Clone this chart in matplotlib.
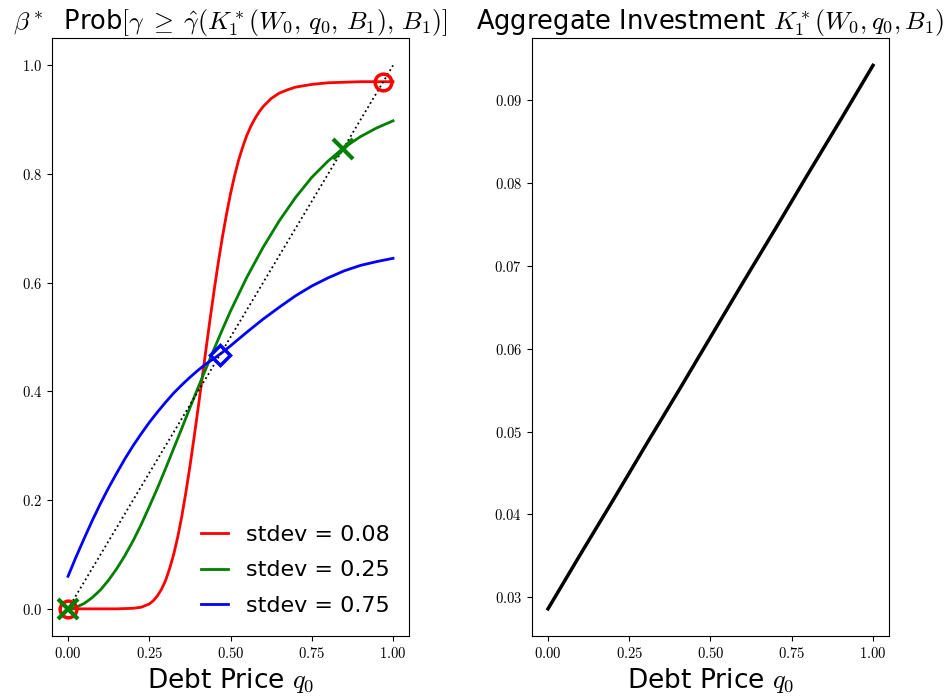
import numpy as np
import matplotlib
matplotlib.use('Agg')
import matplotlib.pyplot as plt
from matplotlib.ticker import FuncFormatter

plt.rcParams['mathtext.fontset'] = 'cm'
plt.rcParams['font.family'] = ['DejaVu Sans']

# Left panel: probability curves
q_red = [0.0, 0.05, 0.10, 0.15, 0.20, 0.225, 0.25, 0.2625, 0.275, 0.2875, 0.30, 0.3125,
         0.325, 0.3375, 0.35, 0.3625, 0.375, 0.3875, 0.40, 0.4125, 0.425, 0.4375,
         0.45, 0.4625, 0.475, 0.4875, 0.50, 0.5125, 0.525, 0.5375, 0.55, 0.5625,
         0.575, 0.5875, 0.60, 0.625, 0.65, 0.675, 0.70, 0.75, 0.80, 0.90, 1.0]
p_red = [0.0, 0.0, 0.0, 0.0, 0.001, 0.003, 0.009, 0.015, 0.024, 0.036, 0.052, 0.074,
         0.100, 0.132, 0.170, 0.214, 0.262, 0.314, 0.368, 0.424, 0.480, 0.535,
         0.588, 0.638, 0.684, 0.726, 0.764, 0.797, 0.826, 0.850, 0.871, 0.888,
         0.902, 0.914, 0.924, 0.939, 0.949, 0.955, 0.960, 0.965, 0.968, 0.970, 0.970]

q_grid = [0.0, 0.025, 0.05, 0.075, 0.10, 0.125, 0.15, 0.175, 0.20, 0.225, 0.25,
          0.275, 0.30, 0.325, 0.35, 0.375, 0.40, 0.425, 0.45, 0.475, 0.50,
          0.55, 0.60, 0.65, 0.70, 0.75, 0.80, 0.85, 0.90, 0.95, 1.0]
p_green = [0.0, 0.003, 0.010, 0.021, 0.035, 0.053, 0.074, 0.098, 0.125, 0.155, 0.188,
           0.222, 0.258, 0.295, 0.332, 0.370, 0.407, 0.443, 0.479, 0.514, 0.548,
           0.610, 0.665, 0.714, 0.757, 0.794, 0.824, 0.849, 0.869, 0.885, 0.898]
p_blue = [0.060, 0.096, 0.130, 0.163, 0.194, 0.223, 0.250, 0.276, 0.300, 0.322, 0.343,
          0.362, 0.380, 0.397, 0.412, 0.426, 0.439, 0.451, 0.461, 0.472, 0.484,
          0.509, 0.533, 0.555, 0.576, 0.594, 0.609, 0.622, 0.632, 0.639, 0.645]

# fixed points (where curve crosses the 45 degree line)
fix_red = [0.0, 0.97]
fix_green = [0.0, 0.847]
fix_blue = [0.468]

# Right panel: aggregate investment
q_inv = [0.0, 0.1, 0.2, 0.3, 0.4, 0.5, 0.6, 0.7, 0.8, 0.9, 1.0]
k_inv = [0.0286, 0.0352, 0.0417, 0.0483, 0.0548, 0.0614, 0.0680, 0.0745, 0.0811, 0.0876, 0.0942]

xticks = [0.0, 0.25, 0.5, 0.75, 1.0]

fig = plt.figure(figsize=(9.45, 7), dpi=100)
ax1 = fig.add_axes([0.0548, 0.0914, 0.3783, 0.854])
ax2 = fig.add_axes([0.5627, 0.0914, 0.3783, 0.854])

ax1.plot(q_red, p_red, color='red', lw=2, label='stdev = 0.08')
ax1.plot(q_grid, p_green, color='green', lw=2, label='stdev = 0.25')
ax1.plot(q_grid, p_blue, color='blue', lw=2, label='stdev = 0.75')
ax1.plot([0, 1], [0, 1], 'k:', lw=1.3)

ax1.plot(fix_red, fix_red, 'o', color='red', mfc='none', ms=12, mew=2.5)
ax1.plot(fix_green, fix_green, 'x', color='green', ms=15, mew=3)
ax1.plot(fix_blue, fix_blue, 'D', color='blue', mfc='none', ms=10, mew=2.5)

ax1.set_title(r'$\beta^*$  Prob$[\gamma \;\geq\; \hat{\gamma}(K_1^*(W_0,\, q_0,\, B_1),\, B_1)]$',
              fontsize=18.5)
ax1.set_xlabel(r'Debt Price $q_0$', fontsize=19)
ax1.legend(loc='lower right', frameon=False, fontsize=16, handlelength=1.2,
           labelspacing=0.7)
ax1.yaxis.set_major_formatter(FuncFormatter(lambda v, p: r'$%.1f$' % v))

ax2.plot(q_inv, k_inv, color='black', lw=2.5)
ax2.set_title(r'Aggregate Investment $K_1^*(W_0, q_0, B_1)$', fontsize=18.5)
ax2.set_xlabel(r'Debt Price $q_0$', fontsize=19)
ax2.yaxis.set_major_formatter(FuncFormatter(lambda v, p: r'$%.2f$' % v))

for ax in (ax1, ax2):
    ax.set_xticks(xticks)
    ax.xaxis.set_major_formatter(FuncFormatter(lambda v, p: r'$%.2f$' % v))
    ax.tick_params(labelsize=10.5)

plt.savefig('out.png')
